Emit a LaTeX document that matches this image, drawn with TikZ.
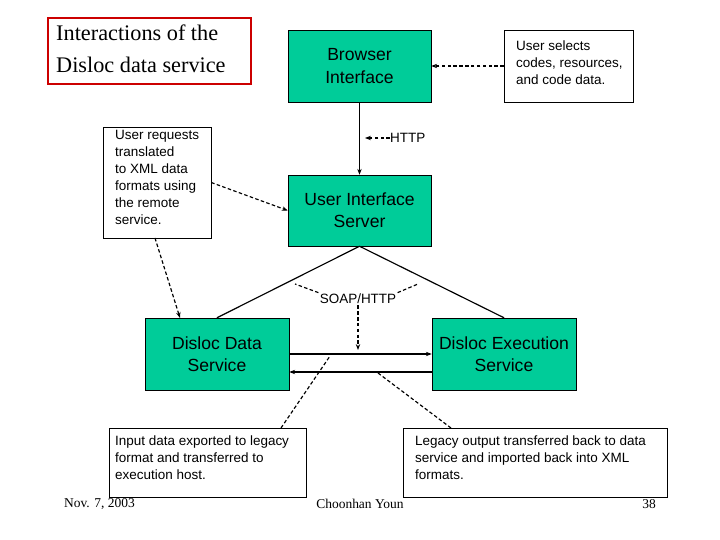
\documentclass[tikz,border=0pt]{standalone}
\usepackage{fontspec}
\setmainfont{Liberation Serif}
\newfontfamily\arial{Liberation Sans}
\usetikzlibrary{arrows.meta}
\definecolor{gr}{RGB}{0,204,153}
\definecolor{rd}{RGB}{204,0,0}
\begin{document}
\begin{tikzpicture}[x=0.03cm,y=-0.03cm,
  gbox/.style={draw,fill=gr,align=center,font=\arial\fontsize{15}{19}\selectfont,inner sep=0pt},
  nbox/.style={draw,fill=white,inner sep=0pt},
  ntxt/.style={align=left,font=\arial\fontsize{11.5}{14.5}\selectfont,inner sep=0pt,anchor=north west},
  sol/.style={line width=1pt,-{Stealth[length=5pt]}},
  dsh/.style={line width=1pt,dash pattern=on 3pt off 2pt,-{Stealth[length=5pt]}},
  dln/.style={line width=1pt,dash pattern=on 3pt off 2pt},
  foot/.style={font=\fontsize{11.5}{13}\selectfont}]
\useasboundingbox (0,0) rectangle (720,540);
\node[draw=rd,line width=1pt,minimum width=6.09cm,minimum height=1.98cm,inner sep=0pt] (title) at (149.5,51) {};
\node[anchor=north west,align=left,font=\fontsize{19}{27}\selectfont,inner sep=0pt] (tt) at (56,25) {Interactions of the\\Disloc data service};
\node[gbox,minimum width=4.29cm,minimum height=2.16cm] (br) at (359.5,66) {Browser\\Interface};
\node[gbox,minimum width=4.29cm,minimum height=2.13cm] (uis) at (359.5,210.5) {User Interface\\Server};
\node[gbox,minimum width=4.32cm,minimum height=2.16cm] (dds) at (217,354) {Disloc Data\\Service};
\node[gbox,minimum width=4.32cm,minimum height=2.16cm] (des) at (504,354) {Disloc Execution\\Service};
\node[nbox,minimum width=3.87cm,minimum height=2.16cm] (sel) at (568.5,66) {};
\node[ntxt] (selt) at (516,41) {User selects\\codes, resources,\\and code data.};
\node[nbox,minimum width=3.24cm,minimum height=3.33cm] (req) at (157,182.5) {};
\node[ntxt] (reqt) at (115,130) {User requests\\translated\\to XML data\\formats using\\the remote\\service.};
\node[nbox,minimum width=5.91cm,minimum height=2.07cm] (inp) at (207.5,462.5) {};
\node[ntxt] (inpt) at (115,436) {Input data exported to legacy\\format and transferred to\\execution host.};
\node[nbox,minimum width=7.92cm,minimum height=2.07cm] (leg) at (535,462.5) {};
\node[ntxt] (legt) at (415,436) {Legacy output transferred back to data\\service and imported back into XML\\formats.};
\draw[sol] (br.south) -- (uis.north);
\node[font=\arial\fontsize{11.5}{13}\selectfont,anchor=west,inner sep=0pt] (http) at (390,138) {HTTP};
\coordinate (hp) at (365,138);
\draw[dsh] (http.west) -- (hp);
\draw[line width=1pt] (uis.south) -- (dds.north);
\draw[line width=1pt] (uis.south) -- (des.north);
\node[font=\arial\fontsize{11.5}{13}\selectfont,inner sep=1pt] (soap) at (358,299) {SOAP/HTTP};
\coordinate (s1) at (295,284); \coordinate (s2) at (418,284); \coordinate (s3) at (358,350);
\draw[dln] (soap.north west) -- (s1);
\draw[dln] (soap.north east) -- (s2);
\draw[dsh] (soap.south) -- (s3);
\draw[sol] (dds.east|-0,354) -- (des.west|-0,354);
\draw[sol] (des.west|-0,372) -- (dds.east|-0,372);
\coordinate (i0) at (281,428); \coordinate (i1) at (330,356);
\coordinate (l0) at (451,428); \coordinate (l1) at (378,373);
\draw[dln] (i0) -- (i1);
\draw[dln] (l0) -- (l1);
\draw[dsh] (sel.west) -- (br.east);
\draw[dsh] (req.east) -- (uis.west);
\coordinate (r0) at (155,238); \coordinate (r1) at (180,318);
\draw[dsh] (r0) -- (r1);
\node[foot,anchor=west] (f1) at (60,504) {Nov. 7, 2003};
\node[foot] (f2) at (360,504) {Choonhan Youn};
\node[foot,anchor=east] (f3) at (660,504) {38};
\end{tikzpicture}
\end{document}
